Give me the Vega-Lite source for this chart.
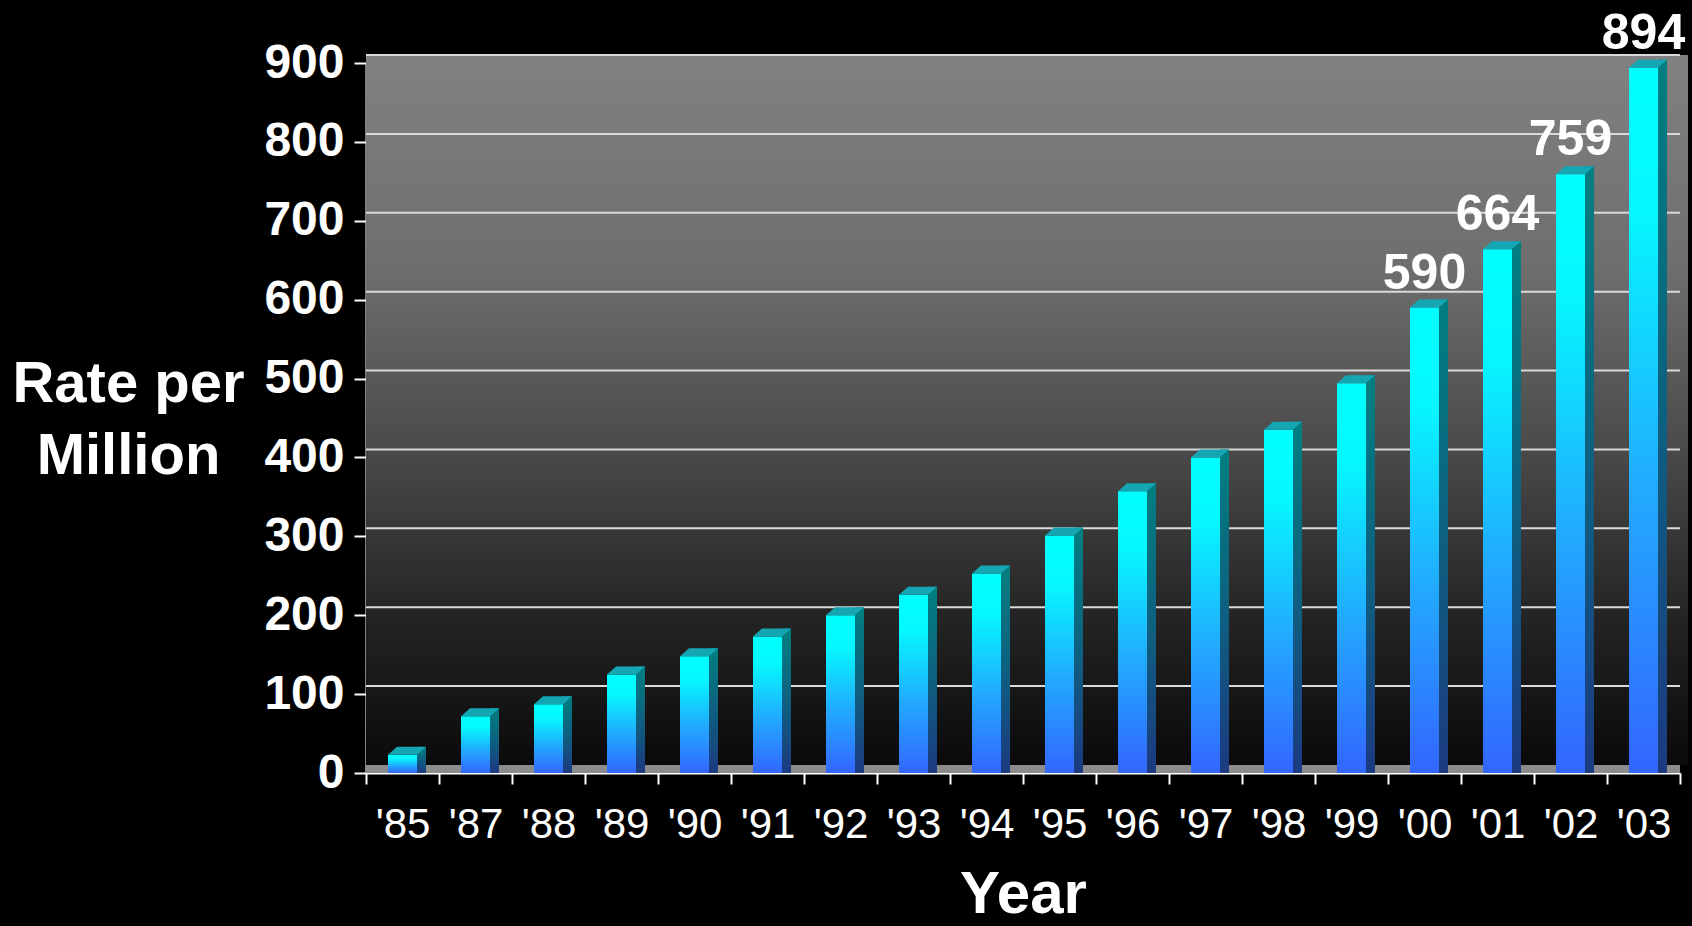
{
  "$schema": "https://vega.github.io/schema/vega-lite/v6.json",
  "autosize": "none",
  "width": 1314,
  "height": 710,
  "padding": {"left": 366, "top": 63, "right": 12, "bottom": 153},
  "background": "#000000",
  "config": {
    "view": {"stroke": null},
    "font": "Liberation Sans"
  },
  "datasets": {
    "rates": [
      {"year": "'85", "rate": 23},
      {"year": "'87", "rate": 72},
      {"year": "'88", "rate": 87},
      {"year": "'89", "rate": 125},
      {"year": "'90", "rate": 148},
      {"year": "'91", "rate": 173},
      {"year": "'92", "rate": 200},
      {"year": "'93", "rate": 226},
      {"year": "'94", "rate": 253},
      {"year": "'95", "rate": 301},
      {"year": "'96", "rate": 357},
      {"year": "'97", "rate": 400},
      {"year": "'98", "rate": 435},
      {"year": "'99", "rate": 494},
      {"year": "'00", "rate": 590},
      {"year": "'01", "rate": 664},
      {"year": "'02", "rate": 759},
      {"year": "'03", "rate": 894}
    ],
    "grid": [
      {"g": 100}, {"g": 200}, {"g": 300}, {"g": 400}, {"g": 500},
      {"g": 600}, {"g": 700}, {"g": 800}, {"g": 900}
    ]
  },
  "data": {"name": "rates"},
  "encoding": {
    "x": {
      "field": "year", "type": "nominal", "sort": null,
      "scale": {"paddingInner": 0, "paddingOuter": 0},
      "axis": {
        "title": "Year",
        "tickBand": "extent",
        "labelAngle": 0,
        "labelColor": "#ffffff",
        "labelFontSize": 42,
        "labelFont": "Liberation Sans",
        "labelPadding": 20,
        "tickColor": "#ffffff",
        "tickSize": 11,
        "tickWidth": 2,
        "domainColor": "#ffffff",
        "domainWidth": 2,
        "titleColor": "#ffffff",
        "titleFontSize": 60,
        "titleFontWeight": "bold",
        "titlePadding": 20
      }
    }
  },
  "layer": [
    {
      "data": {"values": [{}]},
      "mark": {
        "type": "rect",
        "xOffset": 8,
        "x2Offset": 8,
        "yOffset": -8,
        "y2Offset": -8,
        "fill": {
          "gradient": "linear", "x1": 0, "y1": 0, "x2": 0, "y2": 1,
          "stops": [
            {"offset": 0, "color": "#818181"},
            {"offset": 0.3, "color": "#6e6e6e"},
            {"offset": 0.55, "color": "#4b4b4b"},
            {"offset": 0.8, "color": "#232323"},
            {"offset": 1, "color": "#0a0a0a"}
          ]
        }
      },
      "encoding": {
        "x": null,
        "y": {"datum": 900, "type": "quantitative", "scale": {"domain": [0, 900], "nice": false}},
        "y2": {"datum": 0}
      }
    },
    {
      "data": {"name": "grid"},
      "mark": {"type": "rule", "color": "#d9d9d9", "strokeWidth": 2, "yOffset": -8},
      "encoding": {
        "x": null,
        "y": {"field": "g", "type": "quantitative"}
      }
    },
    {
      "data": {"values": [{}]},
      "mark": {"type": "rule", "color": "#8c8c8c", "strokeWidth": 8, "yOffset": -4},
      "encoding": {
        "x": null,
        "y": {"datum": 0, "type": "quantitative"}
      }
    },
    {
      "mark": {
        "type": "bar",
        "width": 9,
        "xOffset": 19,
        "yOffset": -8,
        "fill": {
          "gradient": "linear", "x1": 0, "y1": 0, "x2": 0, "y2": 1,
          "stops": [
            {"offset": 0, "color": "#007f80"},
            {"offset": 0.5, "color": "#0e6080"},
            {"offset": 1, "color": "#1c3a80"}
          ]
        }
      },
      "encoding": {
        "y": {"field": "rate", "type": "quantitative"},
        "y2": {"datum": 0}
      }
    },
    {
      "mark": {
        "type": "bar",
        "width": 29,
        "fill": {
          "gradient": "linear", "x1": 0, "y1": 0, "x2": 0, "y2": 1,
          "stops": [
            {"offset": 0, "color": "#00ffff"},
            {"offset": 0.2, "color": "#05f8ff"},
            {"offset": 0.6, "color": "#22aaff"},
            {"offset": 1, "color": "#3366ff"}
          ]
        }
      },
      "encoding": {
        "y": {
          "field": "rate", "type": "quantitative",
          "axis": {
            "title": ["Rate per", "Million"],
            "values": [0, 100, 200, 300, 400, 500, 600, 700, 800, 900],
            "grid": false,
            "labelColor": "#ffffff",
            "labelFontSize": 48,
            "labelFontWeight": "bold",
            "labelPadding": 10,
            "tickColor": "#ffffff",
            "tickSize": 12,
            "tickWidth": 2,
            "domainColor": "#ffffff",
            "domainWidth": 2,
            "titleColor": "#ffffff",
            "titleFontSize": 58,
            "titleFontWeight": "bold",
            "titleAngle": 0,
            "titleAlign": "center",
            "titleBaseline": "middle",
            "titleLineHeight": 72,
            "titleX": -238,
            "titleY": 321
          }
        }
      }
    },
    {
      "mark": {
        "type": "point",
        "filled": true,
        "size": 2304,
        "strokeWidth": 0,
        "opacity": 1,
        "shape": "M-0.604,0L0.604,0L0.979,-0.333L-0.229,-0.333Z",
        "fill": "#15a6b4"
      },
      "encoding": {
        "y": {"field": "rate", "type": "quantitative"}
      }
    },
    {
      "transform": [{"filter": "datum.rate >= 590"}],
      "mark": {
        "type": "text",
        "color": "#ffffff",
        "fontSize": 50,
        "fontWeight": "bold",
        "baseline": "alphabetic",
        "dy": -19
      },
      "encoding": {
        "y": {"field": "rate", "type": "quantitative"},
        "text": {"field": "rate", "type": "quantitative"}
      }
    }
  ]
}
